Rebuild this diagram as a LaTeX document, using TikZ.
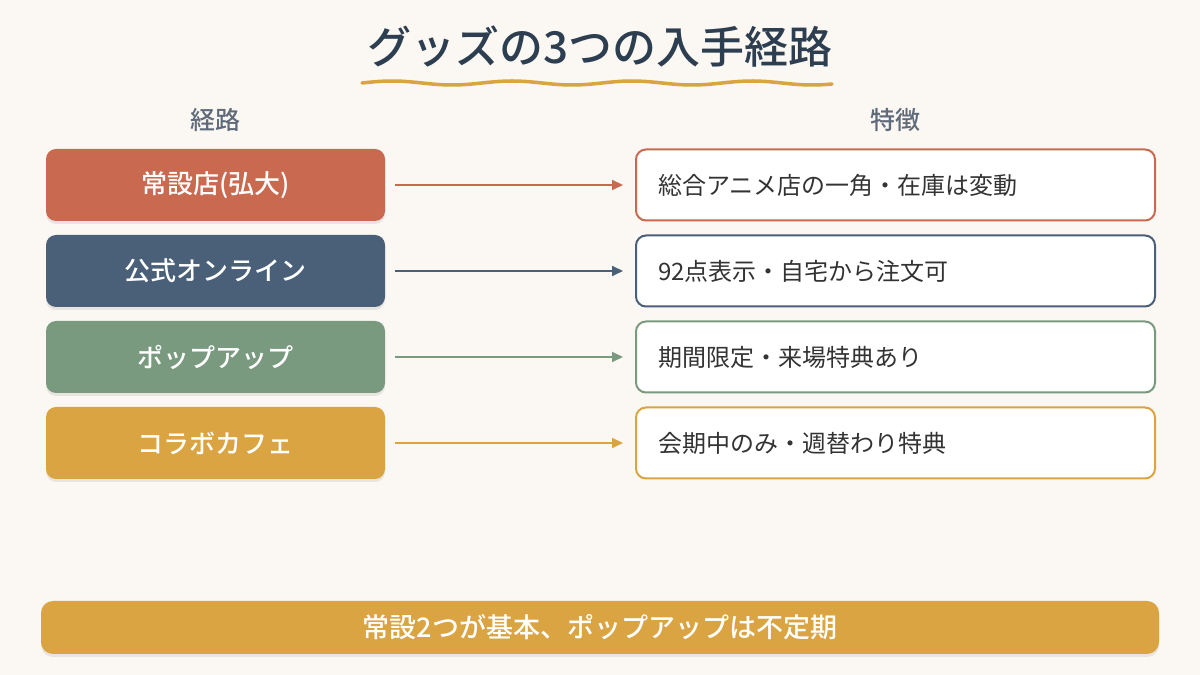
\documentclass[tikz,border=0pt]{standalone}
\usepackage{fontspec}
\setmainfont{Noto Sans CJK JP}[BoldFont={Noto Sans CJK JP Medium}]
\usetikzlibrary{positioning,arrows.meta,shadows}
\definecolor{bgcream}{HTML}{FBF7F2}
\definecolor{titlenavy}{HTML}{2C3E50}
\definecolor{headgray}{HTML}{5F6B7A}
\definecolor{shopred}{HTML}{C96A50}
\definecolor{webnavy}{HTML}{4A5F78}
\definecolor{popgreen}{HTML}{7A9A80}
\definecolor{cafegold}{HTML}{D9A441}
\definecolor{textdark}{HTML}{333333}

\begin{document}
\begin{tikzpicture}[x=1pt,y=1pt,
    route/.style={fill=#1,rounded corners=10pt,minimum width=339pt,minimum height=72pt,
      text=white,font=\fontsize{26}{30}\selectfont\bfseries,
      drop shadow={opacity=0.15,shadow xshift=0pt,shadow yshift=-3pt}},
    feat/.style={draw=#1,line width=2pt,fill=white,rounded corners=10pt,
      minimum width=519pt,minimum height=71pt,text width=475pt,align=left,
      text=textdark,font=\fontsize{24}{28}\selectfont},
    link/.style={draw=#1,line width=2pt,-{Triangle[length=11pt,width=10pt]},
      shorten <=10pt,shorten >=12pt},
    head/.style={text=headgray,font=\fontsize{25}{29}\selectfont\bfseries}]
\fill[bgcream] (0,0) rectangle (1200,675);
\node[text=titlenavy,font=\fontsize{44}{50}\selectfont\bfseries] (title) at (600,628) {グッズの3つの入手経路};
\draw[cafegold,line width=3.5pt,line cap=round] plot[domain=362:832,samples=120,smooth] (\x,{592+2*sin((\x-362)*3)});
\node[head] (hroute) at (215.5,555) {経路};
\node[head] (hfeat) at (895.5,555) {特徴};
% rows
\node[route=shopred] (shop) at (215.5,490) {常設店(弘大)};
\node[feat=shopred] (shopf) at (895.5,490) {総合アニメ店の一角・在庫は変動};
\draw[link=shopred] (shop) -- (shopf);
\node[route=webnavy] (web) at (215.5,404) {公式オンライン};
\node[feat=webnavy] (webf) at (895.5,404) {92点表示・自宅から注文可};
\draw[link=webnavy] (web) -- (webf);
\node[route=popgreen] (pop) at (215.5,318) {ポップアップ};
\node[feat=popgreen] (popf) at (895.5,318) {期間限定・来場特典あり};
\draw[link=popgreen] (pop) -- (popf);
\node[route=cafegold] (cafe) at (215.5,232) {コラボカフェ};
\node[feat=cafegold] (cafef) at (895.5,232) {会期中のみ・週替わり特典};
\draw[link=cafegold] (cafe) -- (cafef);
% summary
\node[fill=cafegold,rounded corners=12pt,minimum width=1118pt,minimum height=53pt,
  text=white,font=\fontsize{27}{31}\selectfont\bfseries,
  drop shadow={opacity=0.15,shadow xshift=0pt,shadow yshift=-3pt}] (note) at (600,47.5) {常設2つが基本、ポップアップは不定期};
\end{tikzpicture}
\end{document}
